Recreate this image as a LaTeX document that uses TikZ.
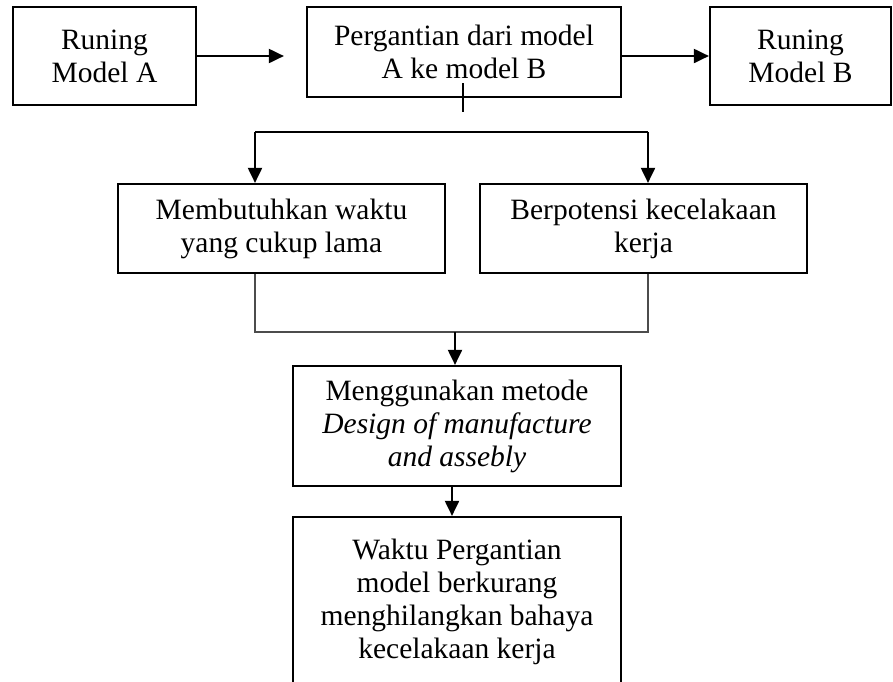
\documentclass[tikz,border=0pt]{standalone}
\usepackage{fontspec}
\setmainfont{Liberation Serif}
\usetikzlibrary{arrows.meta}
\begin{document}
\begin{tikzpicture}[x=1pt,y=-1pt,
  box/.style={draw, line width=2.2pt, align=center, inner sep=0pt, rectangle,
    font=\fontsize{29.5}{33}\selectfont},
  conn/.style={line width=2pt},
  arr/.style={line width=2pt, -{Triangle[length=15pt,width=14pt]}},
  thinconn/.style={line width=1.2pt, draw=black!70}]
\useasboundingbox (0,0) rectangle (893,681);
\clip (0,0) rectangle (893,681);
\node[box, minimum width=183pt, minimum height=98pt] (A) at (104.5,56) {Runing\\Model A};
\node[box, minimum width=314pt, minimum height=90pt] (P) at (464,52) {Pergantian dari model\\A ke model B};
\node[box, minimum width=181pt, minimum height=98pt] (B) at (800.5,56) {Runing\\Model B};
\node[box, minimum width=327pt, minimum height=89pt] (Mem) at (281.5,228.5) {Membutuhkan waktu\\yang cukup lama};
\node[box, minimum width=327pt, minimum height=89pt] (Ber) at (643.5,228.5) {Berpotensi kecelakaan\\kerja};
\node[box, minimum width=328pt, minimum height=120pt] (M) at (457,426) {Menggunakan metode\\\textit{Design of manufacture}\\\textit{and assebly}};
\node[box, minimum width=328pt, minimum height=169pt] (W) at (457,601.5) {Waktu Pergantian\\model berkurang\\menghilangkan bahaya\\kecelakaan kerja};
% connectors
\draw[arr, shorten >=22pt] (A.east) -- (P.west |- A.east);
\draw[arr] (P.east |- B.west) -- (B.west);
\coordinate (t1) at (463,83);
\coordinate (t2) at (463,112);
\draw[conn] (t1) -- (t2);
\coordinate (hl) at (255,132);
\coordinate (hr) at (648,132);
\draw[conn] (hl) -- (hr);
\draw[arr] (hl) -- (hl |- Mem.north);
\draw[arr] (hr) -- (hr |- Ber.north);
\coordinate (bl) at (255,332);
\coordinate (br) at (648,332);
\coordinate (bm) at (455,332);
\draw[thinconn] (bl |- Mem.south) -- (bl) -- (br) -- (br |- Ber.south);
\draw[arr] (bm) -- (bm |- M.north);
\coordinate (mw) at (452,486);
\draw[arr] (mw |- M.south) -- (mw |- W.north);
\end{tikzpicture}
\end{document}
